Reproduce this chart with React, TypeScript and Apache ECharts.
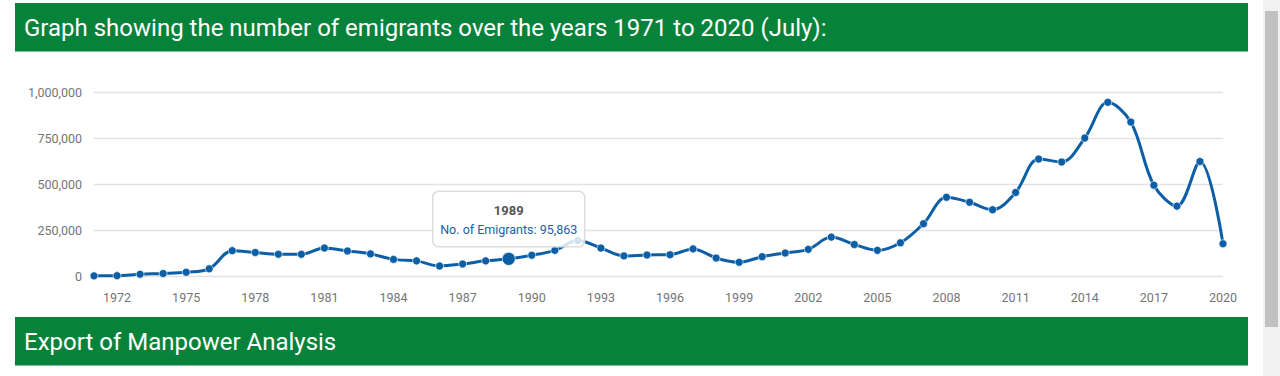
import React, { useEffect, useRef } from "react";
import * as echarts from "echarts";

const years: string[] = [
  "1971","1972","1973","1974","1975","1976","1977","1978","1979","1980",
  "1981","1982","1983","1984","1985","1986","1987","1988","1989","1990",
  "1991","1992","1993","1994","1995","1996","1997","1998","1999","2000",
  "2001","2002","2003","2004","2005","2006","2007","2008","2009","2010",
  "2011","2012","2013","2014","2015","2016","2017","2018","2019","2020",
];

const emigrants: number[] = [
  3534, 4530, 12300, 16328, 23077, 41690, 140445, 130525, 121000, 120500,
  155000, 139000, 123000, 93000, 85000, 57000, 68000, 85000, 95863, 115520,
  142000, 195000, 154529, 112000, 117048, 118500, 150000, 100706, 77000, 107733,
  127929, 147422, 214039, 173824, 142135, 183191, 287033, 430314, 403528, 362904,
  456893, 638587, 622714, 752466, 946571, 839353, 496286, 382439, 625203, 178000,
];

const yTicks: number[] = [0, 250000, 500000, 750000, 1000000];

const highlightYear = "1989";
const seriesName = "No. of Emigrants";
const headerTitle = "Graph showing the number of emigrants over the years 1971 to 2020 (July):";
const footerTitle = "Export of Manpower Analysis";

const fmt = (v: number) => v.toLocaleString("en-US");

export default function App() {
  const ref = useRef<HTMLDivElement>(null);

  useEffect(() => {
    if (!ref.current) return;
    const chart = echarts.init(ref.current, undefined, { renderer: "svg" });
    const hiIdx = years.indexOf(highlightYear);
    const green = "#07823b";
    const font = "Roboto, sans-serif";

    const baseGraphic: any[] = [
      { type: "rect", shape: { x: 15, y: 3, width: 1233, height: 48.5 }, style: { fill: green }, z: 1 },
      {
        type: "text", x: 24, y: 28,
        style: { text: headerTitle, fill: "#ffffff", font: `24px ${font}`, textVerticalAlign: "middle" },
        z: 2,
      },
      { type: "rect", shape: { x: 15, y: 317, width: 1233, height: 48.5 }, style: { fill: green }, z: 1 },
      {
        type: "text", x: 24, y: 342,
        style: { text: footerTitle, fill: "#ffffff", font: `24px ${font}`, textVerticalAlign: "middle" },
        z: 2,
      },
      { type: "rect", shape: { x: 1263, y: 0, width: 17, height: 376 }, style: { fill: "#f1f1f1" }, z: 1 },
      { type: "rect", shape: { x: 1265, y: 11, width: 13, height: 316 }, style: { fill: "#c1c1c1" }, z: 2 },
    ];

    const option: any = {
      animation: false,
      backgroundColor: "#ffffff",
      grid: { left: 94, right: 57, top: 92.5, bottom: 99.5, containLabel: false },
      xAxis: {
        type: "category",
        data: years,
        boundaryGap: false,
        axisLine: { show: false },
        axisTick: { show: false },
        axisLabel: {
          interval: (idx: number) => (idx - 1) % 3 === 0,
          color: "#757575",
          fontSize: 12.5,
          fontFamily: font,
          margin: 14,
        },
        splitLine: { show: false },
      },
      yAxis: {
        type: "value",
        min: 0,
        max: yTicks[yTicks.length - 1],
        interval: yTicks[1] - yTicks[0],
        axisLine: { show: false },
        axisTick: { show: false },
        axisLabel: {
          color: "#757575",
          fontSize: 12.5,
          fontFamily: font,
          margin: 12,
          formatter: (v: number) => fmt(v),
        },
        splitLine: { lineStyle: { color: "#e3e3e3", width: 1.3 } },
      },
      series: [
        {
          name: seriesName,
          type: "line",
          smooth: 0.35,
          data: emigrants.map((v, i) =>
            i === hiIdx ? { value: v, symbolSize: 13 } : v
          ),
          symbol: "circle",
          symbolSize: 8,
          lineStyle: { color: "#0c5fa6", width: 3 },
          itemStyle: { color: "#0c5fa6", borderColor: "rgba(255,255,255,0.6)", borderWidth: 1 },
          z: 3,
        },
      ],
      graphic: baseGraphic,
    };

    chart.setOption(option);

    const pt = chart.convertToPixel({ seriesIndex: 0 }, [hiIdx, emigrants[hiIdx]]) as number[];
    if (pt) {
      const w = 152, h = 55.5;
      const bx = pt[0] - w / 2;
      const by = pt[1] - 12 - h;
      chart.setOption({
        graphic: [
          ...baseGraphic,
          {
            type: "rect",
            shape: { x: bx, y: by, width: w, height: h, r: 6 },
            style: { fill: "rgba(255,255,255,0.82)", stroke: "#dddddd", lineWidth: 1.5 },
            z: 100,
          },
          {
            type: "text", x: pt[0], y: by + 19,
            style: {
              text: highlightYear, fill: "#555555", font: `bold 13px ${font}`,
              textAlign: "center", textVerticalAlign: "middle",
            },
            z: 101,
          },
          {
            type: "text", x: pt[0], y: by + 38.5,
            style: {
              text: `${seriesName}: ${fmt(emigrants[hiIdx])}`, fill: "#1a5fa6", font: `12.5px ${font}`,
              textAlign: "center", textVerticalAlign: "middle",
            },
            z: 101,
          },
        ],
      });
    }

    return () => chart.dispose();
  }, []);

  return (
    <div
      ref={ref}
      style={{ position: "fixed", left: 0, top: 0, width: 1280, height: 376 }}
    />
  );
}
